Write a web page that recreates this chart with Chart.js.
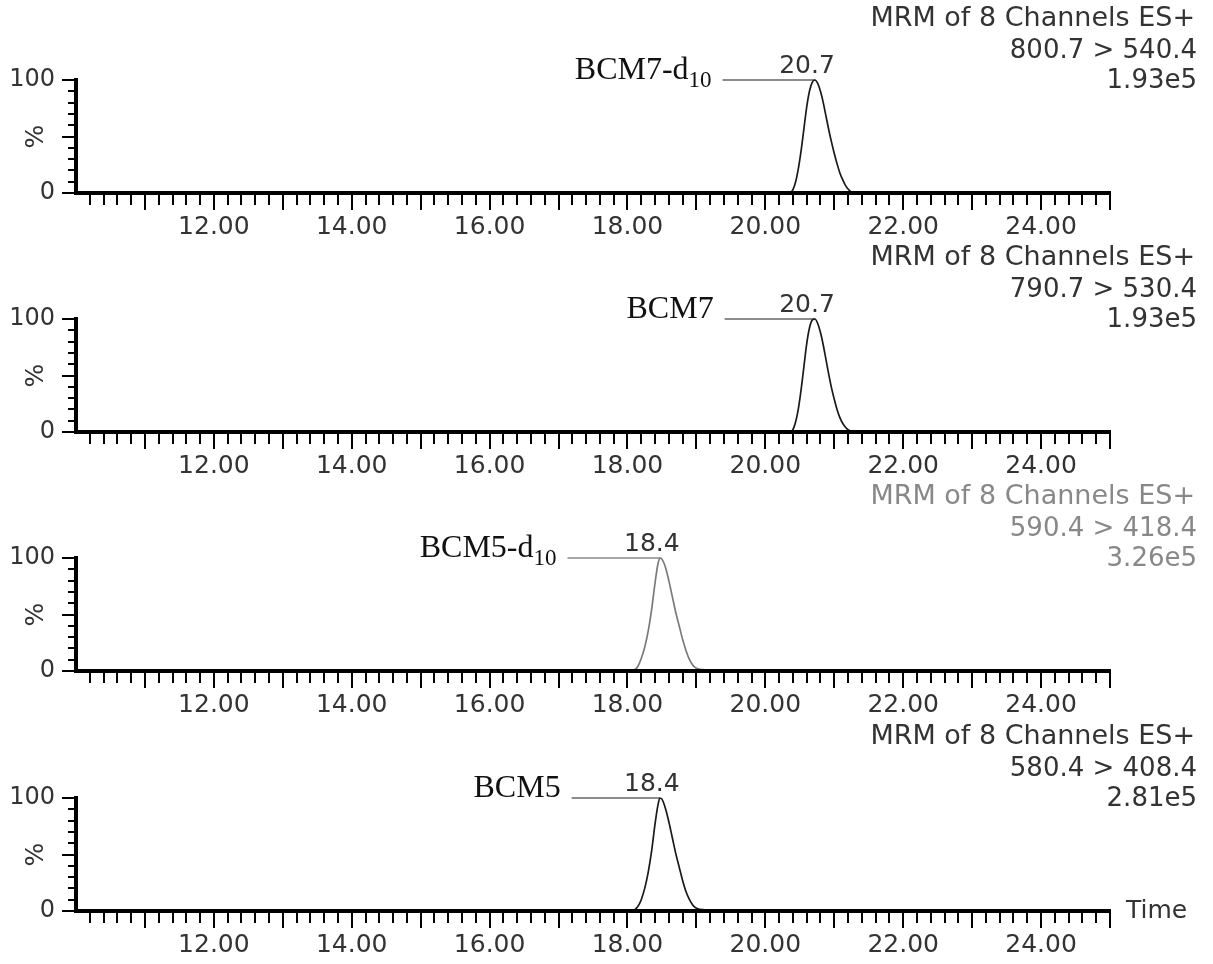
<!DOCTYPE html>
<html>
<head>
<meta charset="utf-8">
<script src="https://cdn.jsdelivr.net/npm/chart.js@4.4.1/dist/chart.umd.min.js"></script>
<style>
  html, body { margin: 0; padding: 0; background: #fff; }
  #page { position: relative; width: 1213px; height: 964px; overflow: hidden; }
  .panel { position: absolute; left: 0; width: 1213px; height: 240px; }
</style>
</head>
<body>
<div id="page"></div>
<script>
// ── chromatogram data (retention time in min, intensity in %) ────────────────
const bcm7Times = [10.00, 20.36, 20.40, 20.44, 20.48, 20.52, 20.56, 20.60, 20.64, 20.68, 20.72, 20.76, 20.80,
                   20.84, 20.88, 20.92, 20.96, 21.00, 21.04, 21.08, 21.12, 21.16, 21.20, 21.24, 21.28, 25.00];
const bcm7d10Pct = [0, 0, 3, 10, 22, 38, 57, 76, 90, 98, 100, 97, 90, 80, 68, 56, 45, 35, 26, 18, 12, 7, 3.5, 1.2, 0, 0];
const bcm7Pct    = [0, 0, 2, 9, 21, 38, 58, 78, 92, 99, 100, 96, 88, 77, 64, 51, 39, 29, 20, 13, 8, 4.5, 2, 0.8, 0, 0];

const bcm5Times = [10.00, 18.05, 18.10, 18.15, 18.20, 18.25, 18.30, 18.35, 18.40, 18.44, 18.47, 18.50, 18.55,
                   18.60, 18.65, 18.70, 18.75, 18.80, 18.85, 18.90, 18.95, 19.00, 19.05, 19.10, 19.15, 19.20, 25.00];
const bcm5d10Pct = [0, 0, 1, 4, 11, 21, 35, 54, 78, 94, 100, 99, 92, 80, 66, 52, 40, 28, 18, 10, 5, 2.5, 1.5, 1.2, 0.8, 0, 0];
const bcm5Pct    = [0, 0, 1, 4, 10, 20, 34, 53, 77, 93, 100, 99, 91, 79, 65, 51, 39, 27, 17, 10, 5, 2.5, 1.5, 1.2, 0.8, 0, 0];

// ── panel annotations ─────────────────────────────────────────────────────────
const compoundNames = ['BCM7-d', 'BCM7', 'BCM5-d', 'BCM5'];
const compoundSubs  = ['10', '', '10', ''];
const apexTimes     = [20.72, 20.72, 18.47, 18.47];
const apexLabels    = ['20.7', '20.7', '18.4', '18.4'];
const markerStarts  = [19.38, 19.41, 17.13, 17.19];
const headerText    = 'MRM of 8 Channels ES+';
const transitions   = ['800.7 > 540.4', '790.7 > 530.4', '590.4 > 418.4', '580.4 > 408.4'];
const intensities   = ['1.93e5', '1.93e5', '3.26e5', '2.81e5'];

const panelTimes = [bcm7Times, bcm7Times, bcm5Times, bcm5Times];
const panelPct   = [bcm7d10Pct, bcm7Pct, bcm5d10Pct, bcm5Pct];
const panelTops  = [0, 239, 478, 718];
const traceColors = ['#1a1a1a', '#1a1a1a', '#7a7a7a', '#1a1a1a'];
const textColors  = ['#333', '#333', '#888', '#333'];

const SANS = '"DejaVu Sans", sans-serif';
const SERIF = '"Liberation Serif", "Times New Roman", serif';

// ── ticks, labels and texts drawn on top of the scales ───────────────────────
const panelDecor = {
  id: 'panelDecor',
  afterDraw(chart, args, o) {
    const { ctx, chartArea: a, scales: { x, y } } = chart;
    ctx.save();

    // tick marks (major every 1 min / 50 %, minor between)
    ctx.strokeStyle = '#000';
    ctx.lineWidth = 2;
    ctx.beginPath();
    x.ticks.forEach(t => {
      if (t.value <= x.min + 1e-6) return;
      const px = Math.round(x.getPixelForValue(t.value));
      const major = Math.abs(t.value - Math.round(t.value)) < 1e-6;
      ctx.moveTo(px, a.bottom);
      ctx.lineTo(px, a.bottom + (major ? 17 : 12));
    });
    y.ticks.forEach(t => {
      const py = Math.round(y.getPixelForValue(t.value));
      const major = t.value % 50 === 0;
      ctx.moveTo(a.left, py);
      ctx.lineTo(a.left - (major ? 14 : 8), py);
    });
    ctx.stroke();

    // MRM block at top right
    ctx.fillStyle = o.textColor;
    ctx.textAlign = 'right';
    ctx.textBaseline = 'middle';
    ctx.font = '27px ' + SANS;
    ctx.fillText(headerText, 1195, 19);
    ctx.font = '26px ' + SANS;
    ctx.fillText(o.transition, 1197, 51);
    ctx.fillText(o.intensity, 1197, 81);

    // apex label
    const lineY = y.getPixelForValue(100);
    const apexX = x.getPixelForValue(o.apex);
    ctx.fillStyle = '#333';
    ctx.font = '25px ' + SANS;
    ctx.textAlign = 'center';
    ctx.textBaseline = 'alphabetic';
    ctx.fillText(o.apexLabel, apexX - 8, lineY - 7);

    // compound name (serif, optional subscript)
    ctx.textAlign = 'left';
    ctx.fillStyle = '#111';
    ctx.font = '32px ' + SERIF;
    const wMain = ctx.measureText(o.name).width;
    ctx.font = '23px ' + SERIF;
    const wSub = o.sub ? ctx.measureText(o.sub).width : 0;
    const right = x.getPixelForValue(o.markerStart) - 11;
    ctx.font = '32px ' + SERIF;
    ctx.fillText(o.name, right - wSub - wMain, lineY - 1);
    if (o.sub) {
      ctx.font = '23px ' + SERIF;
      ctx.fillText(o.sub, right - wSub, lineY + 7);
    }

    if (o.showTime) {
      ctx.fillStyle = '#333';
      ctx.font = '25px ' + SANS;
      ctx.textBaseline = 'middle';
      ctx.fillText('Time', a.right + 16, a.bottom);
    }
    ctx.restore();
  },
};

function renderPanel(i) {
  const div = document.createElement('div');
  div.className = 'panel';
  div.style.top = panelTops[i] + 'px';
  const cv = document.createElement('canvas');
  cv.width = 1213;
  cv.height = 240;
  div.appendChild(cv);
  document.getElementById('page').appendChild(div);

  const trace = panelTimes[i].map((t, k) => ({ x: t, y: panelPct[i][k] }));
  const marker = [{ x: markerStarts[i], y: 100 }, { x: apexTimes[i], y: 100 }];

  new Chart(cv, {
    type: 'line',
    data: {
      datasets: [
        {
          data: trace,
          borderColor: traceColors[i],
          borderWidth: 1.7,
          pointRadius: 0,
          cubicInterpolationMode: 'monotone',
          clip: 6,
        },
        {
          data: marker,
          borderColor: i === 2 ? '#8a8a8a' : '#666',
          borderWidth: 1.5,
          pointRadius: 0,
          clip: 6,
        },
      ],
    },
    plugins: [panelDecor],
    options: {
      responsive: false,
      animation: false,
      events: [],
      layout: { padding: { top: 80, right: 103, left: 0, bottom: 0 } },
      plugins: {
        legend: { display: false },
        tooltip: { enabled: false },
        panelDecor: {
          textColor: textColors[i],
          transition: transitions[i],
          intensity: intensities[i],
          apex: apexTimes[i],
          apexLabel: apexLabels[i],
          name: compoundNames[i],
          sub: compoundSubs[i],
          markerStart: markerStarts[i],
          showTime: i === 3,
        },
      },
      scales: {
        x: {
          type: 'linear',
          min: 10,
          max: 25,
          grid: { display: false, drawTicks: false },
          border: { display: true, width: 4, color: '#000', z: 1 },
          ticks: {
            stepSize: 0.2,
            autoSkip: false,
            maxRotation: 0,
            minRotation: 0,
            padding: 19,
            color: '#333',
            font: { family: 'DejaVu Sans', size: 25 },
            callback: v => (Math.abs(v - Math.round(v)) < 1e-6 && Math.round(v) % 2 === 0 && v > 10) ? v.toFixed(2) : '',
          },
          afterFit: s => { s.height = 47; },
        },
        y: {
          min: 0,
          max: 100,
          grid: { display: false, drawTicks: false },
          border: { display: true, width: 4, color: '#000', z: 1 },
          ticks: {
            stepSize: 10,
            autoSkip: false,
            padding: 21,
            color: '#333',
            font: { family: 'DejaVu Sans', size: 24 },
            callback: v => (v === 0 || v === 100) ? String(v) : '',
          },
          title: {
            display: true,
            text: '%',
            color: '#333',
            font: { family: 'DejaVu Sans', size: 25 },
            padding: { top: 21, bottom: 0 },
          },
          afterFit: s => { s.width = 76; },
        },
      },
    },
  });
}

for (let i = 0; i < 4; i++) renderPanel(i);
</script>
</body>
</html>
